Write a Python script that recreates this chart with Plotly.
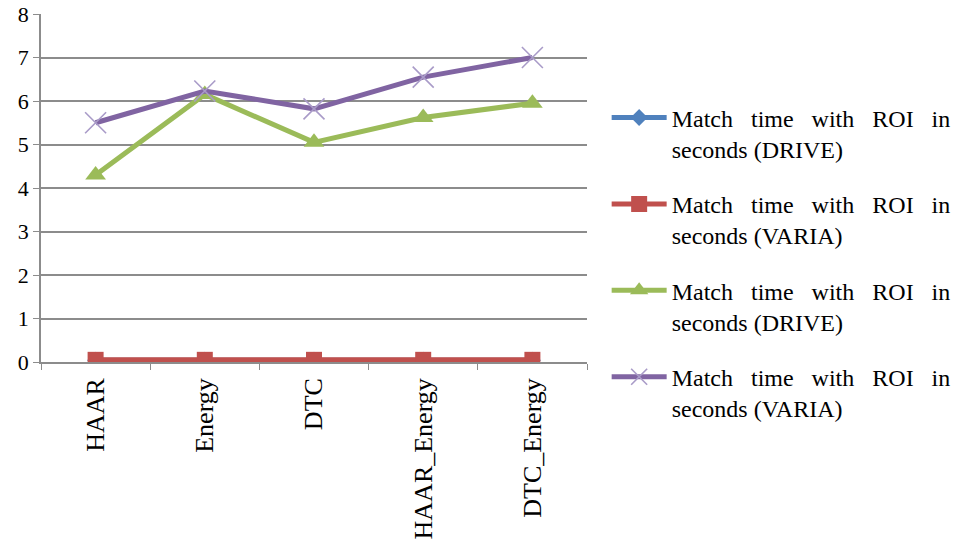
import plotly.graph_objects as go

# Feature-extraction methods on the x axis
methods = ["HAAR", "Energy", "DTC", "HAAR_Energy", "DTC_Energy"]

# Match time with ROI (seconds) for each dataset / run
drive_a = [0.04, 0.04, 0.04, 0.04, 0.04]
varia_a = [0.05, 0.05, 0.05, 0.05, 0.05]
drive_b = [4.3, 6.15, 5.05, 5.62, 5.95]
varia_b = [5.5, 6.23, 5.82, 6.55, 7.0]

GAP = "\u2002 "
first_line = GAP.join(["Match", "time", "with", "ROI", "in"])
series_names = [
    first_line + "<br>seconds (DRIVE)",
    first_line + "<br>seconds (VARIA)",
    first_line + "<br>seconds (DRIVE)",
    first_line + "<br>seconds (VARIA)",
]

SERIF = "Liberation Serif"

fig = go.Figure()

fig.add_trace(go.Scatter(
    x=methods, y=drive_a, name=series_names[0], legendgroup="a",
    mode="lines+markers",
    line=dict(color="#4F81BD", width=5),
    marker=dict(symbol="diamond", size=13, color="#4F81BD"),
))
fig.add_trace(go.Scatter(
    x=methods, y=varia_a, name=series_names[1], legendgroup="b",
    mode="lines+markers",
    line=dict(color="#C0504D", width=5),
    marker=dict(symbol="square", size=16, color="#C0504D"),
))
fig.add_trace(go.Scatter(
    x=methods, y=drive_b, name=series_names[2], legendgroup="c",
    mode="lines+markers",
    line=dict(color="#9BBB59", width=5),
    marker=dict(symbol="triangle-up", size=18, color="#9BBB59"),
))
fig.add_trace(go.Scatter(
    x=methods, y=varia_b, name=series_names[3], legendgroup="d",
    mode="lines+markers",
    line=dict(color="#8064A2", width=5),
    marker=dict(symbol="x-thin", size=21,
                line=dict(color="#A99BC8", width=1.6)),
))

fig.update_layout(
    width=962, height=548,
    margin=dict(l=41, r=375, t=14, b=186, autoexpand=False),
    paper_bgcolor="white", plot_bgcolor="white",
    font=dict(family=SERIF, color="black"),
    legend=dict(
        x=1.036, xanchor="left", y=0.766, yanchor="top",
        font=dict(size=24, family=SERIF, color="black"),
        valign="top", tracegroupgap=21, traceorder="grouped",
        itemwidth=55,
        bgcolor="rgba(0,0,0,0)",
    ),
    showlegend=True,
)

fig.update_xaxes(
    type="category", range=[-0.5, 4.5],
    showgrid=False, showline=True, linecolor="#8c8c8c", linewidth=1.5,
    ticks="outside", tickson="boundaries", ticklen=6, tickcolor="#8c8c8c",
    tickangle=-90, tickfont=dict(size=26, family=SERIF),
    ticklabelstandoff=4,
    zeroline=False,
)
fig.update_yaxes(
    range=[0, 8], dtick=1, tick0=0,
    showgrid=True, gridcolor="#8c8c8c", gridwidth=1.5,
    showline=True, linecolor="#8c8c8c", linewidth=1.5,
    ticks="outside", ticklen=6, tickcolor="#8c8c8c",
    tickfont=dict(size=22, family=SERIF),
    zeroline=False,
)

fig.write_html("out.html")
